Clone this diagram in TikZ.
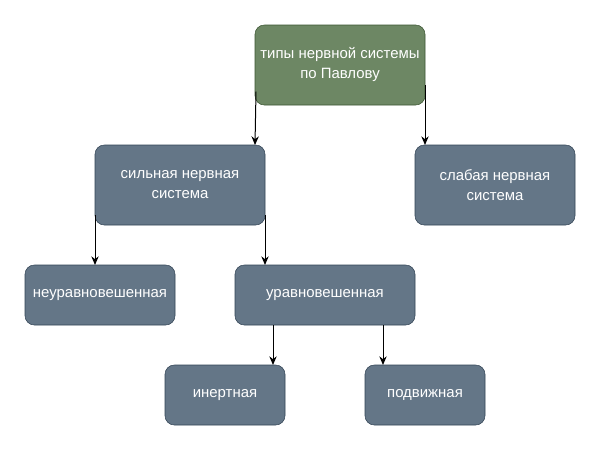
\documentclass[tikz,border=0pt]{standalone}
\usepackage{fontspec}
\setmainfont{Liberation Sans}
\usetikzlibrary{arrows.meta}
\definecolor{boxfill}{HTML}{647687}
\definecolor{boxline}{HTML}{314354}
\definecolor{topfill}{HTML}{6D8764}
\definecolor{topline}{HTML}{3A5431}
\begin{document}
\begin{tikzpicture}[x=0.75pt, y=-0.75pt,
    box/.style={draw=boxline, fill=boxfill, rounded corners=7pt, text=white, align=center,
        font=\fontsize{11.2}{15}\selectfont, inner sep=0pt, outer sep=0pt,
        minimum height=60pt, minimum width=127.5pt},
    arr/.style={-{Stealth[length=6.5pt, width=5.5pt]}, black, line width=0.75pt}]
    \useasboundingbox (0,0) rectangle (601,451);
    % Top
    \node[box, fill=topfill, draw=topline] (types) at (340,65) {типы нервной системы\\по Павлову};
    % Second row
    \node[box] (strong) at (180,185) {сильная нервная\\система};
    \node[box, minimum width=120pt] (weak) at (495,185) {слабая нервная\\система};
    % Third row
    \node[box, minimum width=112.5pt, minimum height=45pt] (unbal) at (100,295) {неуравновешенная};
    \node[box, minimum width=135pt, minimum height=45pt] (bal) at (325,295) {уравновешенная};
    % Bottom row
    \node[box, minimum width=90pt, minimum height=45pt] (inert) at (225,395) {инертная};
    \node[box, minimum width=90pt, minimum height=45pt] (mobile) at (425,395) {подвижная};
    % Arrows
    \draw[arr] ([xshift=0.75pt, yshift=10pt]types.south west) -- ([xshift=-7.5pt]strong.north east);
    \draw[arr] ([yshift=15pt]types.south east) -- ([xshift=7.5pt]weak.north west);
    \draw[arr] ([yshift=7.5pt]strong.south west) -- ([xshift=52.5pt]unbal.north west);
    \draw[arr] ([yshift=7.5pt]strong.south east) -- ([xshift=22.5pt]bal.north west);
    \draw[arr] ([xshift=28.5pt]bal.south west) -- ([xshift=-9pt]inert.north east);
    \draw[arr] ([xshift=111pt]bal.south west) -- ([xshift=13.5pt]mobile.north west);
\end{tikzpicture}
\end{document}
